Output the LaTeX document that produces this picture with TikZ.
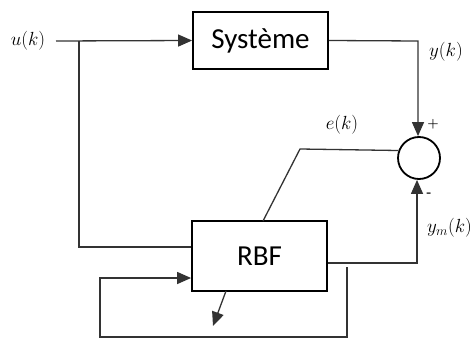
\RequirePackage{fix-cm}
\documentclass[tikz,border=0pt]{standalone}
\usepackage{fontspec}
\newfontfamily\carlito{Carlito}
\usetikzlibrary{arrows.meta}
\tikzset{
  blockbox/.style={draw, line width=1.8pt, minimum width=135pt, minimum height=57pt, inner sep=0pt,
    font=\fontsize{29}{31}\selectfont\carlito},
  wire/.style={line width=1.3pt, draw=black!80},
  tip/.style={-{Triangle[length=14pt,width=12pt]}},
  lbl/.style={font=\fontsize{19}{21}\selectfont, inner sep=0pt},
  sgn/.style={font=\fontsize{13}{13}\selectfont\bfseries, inner sep=0pt}
}
\begin{document}
\begin{tikzpicture}[x=1pt,y=-1pt]
\useasboundingbox (0,0) rectangle (473,339);
% nodes
\node[lbl] (u) at (28,41) {$u(k)$};
\node[blockbox] (sys) at (260.5,40.5) {Système};
\node[blockbox, minimum height=70pt] (rbf) at (259.5,256) {RBF};
\node[draw, circle, line width=1.8pt, minimum size=42pt, inner sep=0pt] (sum) at (419,158) {};
\node[lbl] (y) at (446,52) {$y(k)$};
\node[lbl] (e) at (342,125) {$e(k)$};
\node[lbl, anchor=east] (ym) at (472,228) {$y_m(k)$};
\node[sgn] (plus) at (433,124) {+};
\node[sgn] (minus) at (429,195) {-};
% coordinates
\coordinate (uin) at (56,41);
\coordinate (br) at (79,41);
\coordinate (brd) at (79,247);
\coordinate (ycorner) at (418,41);
\coordinate (ecorner) at (300,149);
\coordinate (etop) at (263,221);
\coordinate (ymcorner) at (417,263);
\coordinate (fbstart) at (347,267);
\coordinate (fb1) at (347,337);
\coordinate (fb2) at (100,337);
\coordinate (fb3) at (100,278);
\coordinate (adS) at (226,291);
\coordinate (adE) at (213,326);
% connectors
\draw[wire, tip] (uin) -- (sys.west);
\draw[wire] (br) -- (brd) -- (rbf.west |- brd);
\draw[wire, tip] (sys.east) -- (ycorner) -- (sum.north -| ycorner);
\draw[wire] (sum.160) -- (ecorner) -- (etop);
\draw[wire, tip] (rbf.east |- ymcorner) -- (ymcorner) -- (sum.south -| ymcorner);
\draw[wire, tip] (fbstart) -- (fb1) -- (fb2) -- (fb3) -- (rbf.west |- fb3);
\draw[wire, tip] (adS) -- (adE);
\end{tikzpicture}
\end{document}
